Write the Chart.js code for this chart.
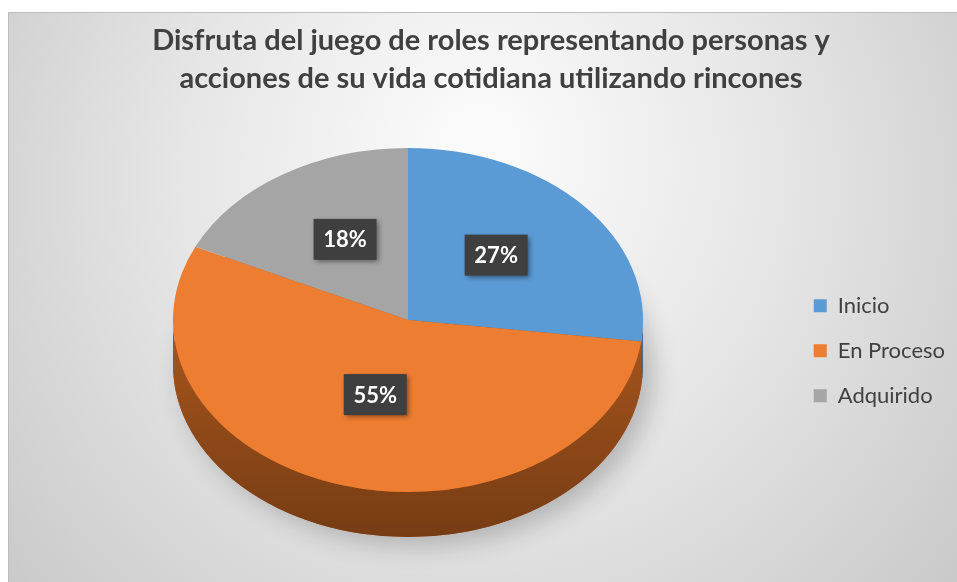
<!DOCTYPE html>
<html>
<head>
<meta charset="utf-8">
<script src="https://cdn.jsdelivr.net/npm/chart.js@4.4.1/dist/chart.umd.min.js"></script>
<style>
  html, body { margin: 0; padding: 0; background: #fff; overflow: hidden; }
  canvas { display: block; }
</style>
</head>
<body>
<canvas id="pieChart" width="957" height="582"></canvas>
<script>
// Data
const labels = ['Inicio', 'En Proceso', 'Adquirido'];
const values = [27, 55, 18];
const colors = ['#5b9bd5', '#ed7d31', '#a5a5a5'];
const sideColors = ['#3f6f9c', '#a9561d', '#7c7c7c'];
const titleLines = [
    'Disfruta del juego de roles representando personas y',
    'acciones de su vida cotidiana utilizando rincones'
];

// Tilted pie look (screen pixels)
const CX = 408, CY = 320, RX = 235, RY = 172, DEPTH = 45;
const LABEL_LIFT = 8;

// Frame + gray gradient background
const backgroundPlugin = {
    id: 'background',
    beforeDraw(chart) {
        const ctx = chart.ctx;
        ctx.save();
        ctx.fillStyle = '#ffffff';
        ctx.fillRect(0, 0, chart.width, chart.height);
        const g = ctx.createRadialGradient(480, 140, 20, 480, 220, 640);
        g.addColorStop(0, '#fbfbfb');
        g.addColorStop(0.45, '#e6e6e6');
        g.addColorStop(1, '#c6c6c6');
        ctx.fillStyle = g;
        ctx.fillRect(8, 12, chart.width - 8, chart.height - 12);
        ctx.fillStyle = '#bdbdbd';
        ctx.fillRect(8, 12, chart.width - 8, 1);
        ctx.fillRect(8, 12, 1, chart.height - 12);
        ctx.restore();
    }
};

// Squash the pie into an ellipse and give it a side wall
const tiltPlugin = {
    id: 'tilt',
    beforeDatasetsDraw(chart) {
        const ctx = chart.ctx;
        const arcs = chart.getDatasetMeta(0).data;
        const first = arcs[0];
        const R = first.outerRadius;
        const x = first.x, y = first.y;
        const d = DEPTH * R / RY;

        ctx.save();
        ctx.translate(CX, CY);
        ctx.scale(RX / R, RY / R);
        ctx.translate(-x, -y);

        // soft shadow under the pie
        ctx.save();
        ctx.shadowColor = 'rgba(0,0,0,0.22)';
        ctx.shadowBlur = 26;
        ctx.shadowOffsetX = 10;
        ctx.shadowOffsetY = 8;
        ctx.beginPath();
        ctx.arc(x, y + d, R, 0, Math.PI * 2);
        ctx.fillStyle = sideColors[1];
        ctx.fill();
        ctx.restore();

        // side wall of each slice on the front half
        arcs.forEach((arc, i) => {
            const a1 = Math.max(arc.startAngle, 0);
            const a2 = Math.min(arc.endAngle, Math.PI);
            if (a2 <= a1) return;
            const g = ctx.createLinearGradient(0, y, 0, y + R + d);
            g.addColorStop(0, sideColors[i]);
            g.addColorStop(1, shade(sideColors[i], 0.7));
            ctx.beginPath();
            ctx.arc(x, y, R, a1, a2);
            ctx.arc(x, y + d, R, a2, a1, true);
            ctx.closePath();
            ctx.fillStyle = g;
            ctx.fill();
        });
    },
    afterDatasetsDraw(chart) {
        const ctx = chart.ctx;
        ctx.restore();

        // percentage labels in dark boxes
        const arcs = chart.getDatasetMeta(0).data;
        const total = values.reduce((a, b) => a + b, 0);
        arcs.forEach((arc, i) => {
            const mid = (arc.startAngle + arc.endAngle) / 2;
            const px = CX + RX * 0.5 * Math.cos(mid);
            const py = CY + RY * 0.5 * Math.sin(mid) - LABEL_LIFT;
            const w = 63, h = 41;
            ctx.save();
            ctx.shadowColor = 'rgba(0,0,0,0.45)';
            ctx.shadowBlur = 5;
            ctx.shadowOffsetX = 2;
            ctx.shadowOffsetY = 2;
            ctx.fillStyle = '#3f3f3f';
            ctx.fillRect(px - w / 2, py - h / 2, w, h);
            ctx.restore();
            ctx.save();
            ctx.fillStyle = '#ffffff';
            ctx.font = 'bold 22px Lato';
            ctx.textAlign = 'center';
            ctx.textBaseline = 'middle';
            ctx.fillText(Math.round(values[i] / total * 100) + '%', px, py + 1);
            ctx.restore();
        });
    }
};

function shade(hex, f) {
    const n = parseInt(hex.slice(1), 16);
    const r = Math.round(((n >> 16) & 255) * f);
    const g = Math.round(((n >> 8) & 255) * f);
    const b = Math.round((n & 255) * f);
    return `rgb(${r},${g},${b})`;
}

const ctx = document.getElementById('pieChart').getContext('2d');
const pieChart = new Chart(ctx, {
    type: 'pie',
    data: {
        labels: labels,
        datasets: [{
            data: values,
            backgroundColor: colors,
            borderWidth: 0
        }]
    },
    options: {
        responsive: false,
        animation: false,
        layout: {
            padding: { left: 27, right: 2, top: 0, bottom: 0 }
        },
        plugins: {
            title: {
                display: true,
                text: titleLines,
                color: '#404040',
                font: { family: 'Lato', size: 29, weight: 'bold', lineHeight: 1.3 },
                padding: { top: 22, bottom: 22 }
            },
            legend: {
                position: 'right',
                fullSize: false,
                labels: {
                    boxWidth: 13,
                    boxHeight: 13,
                    padding: 23,
                    color: '#404040',
                    font: { family: 'Lato', size: 22 }
                }
            },
            tooltip: { enabled: false }
        }
    },
    plugins: [backgroundPlugin, tiltPlugin]
});
</script>
</body>
</html>
